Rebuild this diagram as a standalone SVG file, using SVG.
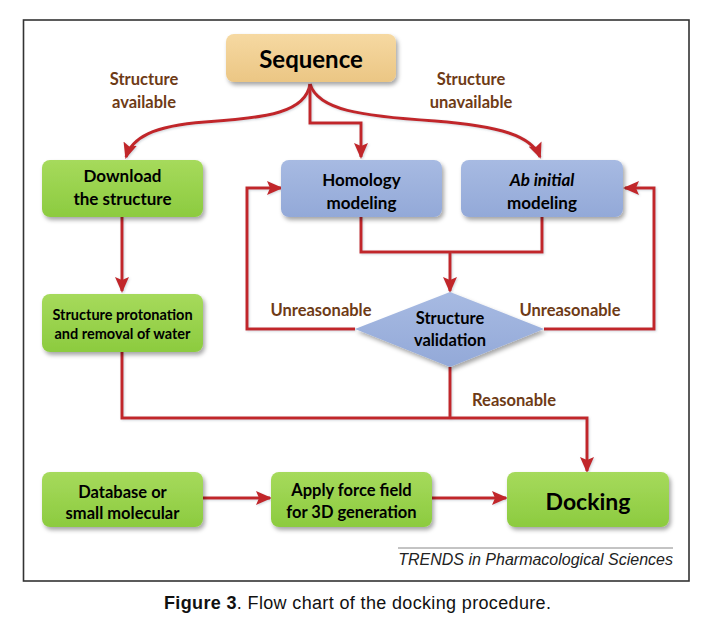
<svg xmlns="http://www.w3.org/2000/svg" width="716" height="630" viewBox="0 0 716 630">
<defs>
<style>
.box{stroke:none;filter:url(#sh)}
.green{fill:url(#gG)}
.blue{fill:url(#gB)}
.tan{fill:url(#gT)}
.t{font-family:Lato,"Open Sans","DejaVu Sans",sans-serif;font-weight:700;fill:#000;text-anchor:middle}
.lab{font-family:Lato,"Open Sans","DejaVu Sans",sans-serif;font-weight:700;fill:#6E3B16;text-anchor:middle;font-size:16.5px}
.ln{fill:none;stroke:#C1282B;stroke-width:3;stroke-linejoin:miter;filter:url(#gl)}
.arr{marker-end:url(#ah)}
</style>
<linearGradient id="gG" x1="0" y1="0" x2="0" y2="1"><stop offset="0" stop-color="#A6DA5C"/><stop offset="1" stop-color="#8CCB3F"/></linearGradient>
<linearGradient id="gB" x1="0" y1="0" x2="0" y2="1"><stop offset="0" stop-color="#A7BAE2"/><stop offset="1" stop-color="#93A9D8"/></linearGradient>
<linearGradient id="gT" x1="0" y1="0" x2="0" y2="1"><stop offset="0" stop-color="#F6D9A2"/><stop offset="1" stop-color="#EBC684"/></linearGradient>
<filter id="sh" x="-10%" y="-10%" width="125%" height="135%"><feDropShadow dx="2" dy="3" stdDeviation="2" flood-color="#000" flood-opacity="0.35"/></filter>
<filter id="gl" filterUnits="userSpaceOnUse" x="0" y="0" width="716" height="630"><feDropShadow dx="1" dy="1" stdDeviation="1" flood-color="#7a8a9a" flood-opacity="0.35"/></filter>
<marker id="ah" markerUnits="userSpaceOnUse" markerWidth="16" markerHeight="14" viewBox="0 0 16 14" refX="14" refY="7" orient="auto"><path d="M0,0 L16,7 L0,14 L3,7 Z" fill="#C1282B"/></marker>
</defs>
<rect x="0" y="0" width="716" height="630" fill="#fff"/>
<rect x="23.5" y="20" width="665.5" height="561" fill="#fff" stroke="#333" stroke-width="1.6"/>

<g id="connectors">
<path class="ln arr" d="M310,84 C306,112 268,118 205,122 C152,126 132,138 126,157"/>
<path class="ln arr" d="M310,84 V123 H361 V157"/>
<path class="ln arr" d="M310,84 C318,110 360,116 435,121 C500,126 532,136 540,157"/>
<path class="ln arr" d="M122,217 V291"/>
<path class="ln" d="M361,217 V252 H542 V217"/>
<path class="ln arr" d="M450,252 V291"/>
<path class="ln arr" d="M355,329 H247 V188 H281"/>
<path class="ln arr" d="M544,329 H654 V188 H625"/>
<path class="ln" d="M450,367 V418"/>
<path class="ln arr" d="M122,352 V418 H587 V471"/>
<path class="ln arr" d="M203,498 H270"/>
<path class="ln arr" d="M432,498 H506"/>
</g>

<g id="sequence"><rect class="box tan" x="226" y="34" width="170" height="48" rx="8"/><text class="t" x="311" y="68" font-size="24">Sequence</text></g>
<g id="label-available"><text class="lab" x="144" y="85">Structure</text><text class="lab" x="144" y="108">available</text></g>
<g id="label-unavailable"><text class="lab" x="471" y="85">Structure</text><text class="lab" x="471" y="108">unavailable</text></g>
<g id="download"><rect class="box green" x="42" y="160" width="161" height="57" rx="8"/><text class="t" x="122.5" y="182" font-size="17">Download</text><text class="t" x="122.5" y="205" font-size="17">the structure</text></g>
<g id="homology"><rect class="box blue" x="281" y="160" width="161" height="57" rx="8"/><text class="t" x="361.5" y="186" font-size="17">Homology</text><text class="t" x="361.5" y="209" font-size="17">modeling</text></g>
<g id="abinitial"><rect class="box blue" x="461" y="160" width="162" height="57" rx="8"/><text class="t" x="542" y="186" font-size="17"><tspan font-style="italic">Ab initial</tspan></text><text class="t" x="542" y="209" font-size="17">modeling</text></g>
<g id="protonation"><rect class="box green" x="42" y="294" width="161" height="58" rx="8"/><text class="t" x="122.5" y="320" font-size="14.5">Structure protonation</text><text class="t" x="122.5" y="339" font-size="14.5">and removal of water</text></g>
<g id="validation"><polygon class="box blue" points="450,292 544,329 450,367 355,329"/><text class="t" x="450" y="324" font-size="16.5">Structure</text><text class="t" x="450" y="346" font-size="16.5">validation</text></g>
<g id="label-unreasonable-left"><text class="lab" x="321" y="316">Unreasonable</text></g>
<g id="label-unreasonable-right"><text class="lab" x="570" y="316">Unreasonable</text></g>
<g id="label-reasonable"><text class="lab" x="514" y="406">Reasonable</text></g>
<g id="database"><rect class="box green" x="42" y="472" width="161" height="55" rx="8"/><text class="t" x="122.5" y="498" font-size="16.5">Database or</text><text class="t" x="122.5" y="519" font-size="16.5">small molecular</text></g>
<g id="forcefield"><rect class="box green" x="271" y="472" width="161" height="55" rx="8"/><text class="t" x="351.5" y="496" font-size="16.5">Apply force field</text><text class="t" x="351.5" y="518" font-size="16.5">for 3D generation</text></g>
<g id="docking"><rect class="box green" x="507" y="472" width="162" height="55" rx="8"/><text class="t" x="588" y="510" font-size="23">Docking</text></g>

<line x1="398" y1="548" x2="673" y2="548" stroke="#888" stroke-width="1"/>
<text x="673" y="565" font-family="'Liberation Sans',Arial,sans-serif" font-style="italic" font-size="16" fill="#222" text-anchor="end">TRENDS in Pharmacological Sciences</text>
<text x="164" y="609" font-family="'Liberation Sans',Arial,sans-serif" font-size="18" fill="#111" textLength="387" lengthAdjust="spacing"><tspan font-weight="700">Figure 3</tspan>.  Flow chart of the docking procedure.</text>
</svg>
